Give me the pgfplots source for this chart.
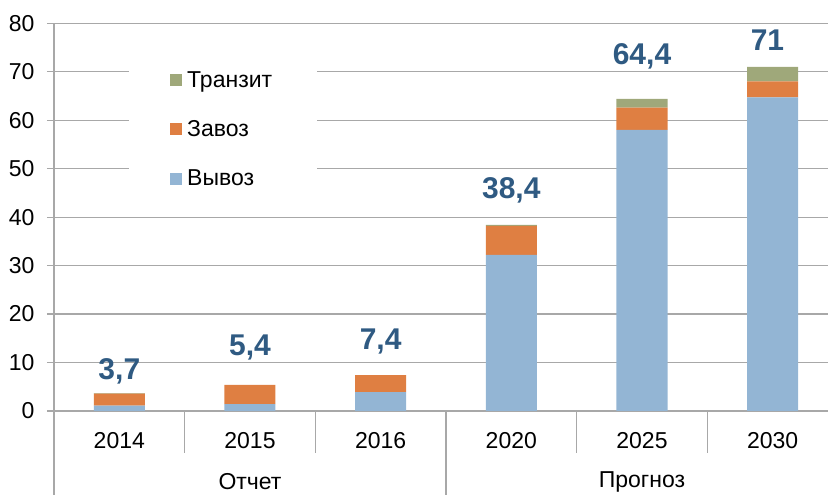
\documentclass[border=0pt]{standalone}
\usepackage{pgfplots}
\pgfplotsset{compat=1.18}
\usepackage{fontspec}
\setmainfont{Liberation Sans}

\definecolor{vyvoz}{HTML}{93B5D4}
\definecolor{zavoz}{HTML}{DF7F42}
\definecolor{tranzit}{HTML}{9FA87A}
\definecolor{gridc}{HTML}{A8A8A8}
\definecolor{lblc}{HTML}{2F5A82}

\tikzset{
    total/.style={font=\fontsize{30}{33}\selectfont\bfseries, text=lblc},
    sep/.style={draw=gridc, line width=1.2pt},
}

\begin{document}
\begin{tikzpicture}
\useasboundingbox (0,0) rectangle (828pt,495pt);
\begin{axis}[
    at={(54pt,84pt)}, anchor=south west,
    scale only axis, width=784pt, height=387.7pt,
    ybar stacked, bar width=51pt,
    xmin=-0.5, xmax=5.5, ymin=0, ymax=80,
    axis x line*=bottom, axis y line*=left,
    axis line style={draw=gridc, line width=1.2pt},
    ytick={0,10,...,80},
    ymajorgrids, grid style={draw=gridc, line width=1.2pt},
    tick align=outside, major tick length=7pt,
    ytick style={draw=gridc, line width=1.2pt},
    xtick={0,...,5},
    xticklabels={2014,2015,2016,2020,2025,2030},
    xtick style={draw=none},
    tick label style={font=\fontsize{23}{27}\selectfont, text=black},
    xticklabel style={yshift=-11pt},
    yticklabel style={xshift=-9pt},
    /pgf/number format/assume math mode=true,
    clip=false,
    legend cell align=left,
    reverse legend,
    legend image code/.code={\fill[#1] (0pt,-6pt) rectangle (12pt,6pt);},
    legend style={draw=none, fill=none, inner sep=0pt,
        at={(rel axis cs:0.148,0.882)}, anchor=north west,
        row sep=28pt, font=\fontsize{23}{27}\selectfont,
        /tikz/every odd column/.append style={column sep=3pt}},
]
\addplot[fill=vyvoz, draw=none] coordinates {
    (0,1.1) (1,1.4) (2,3.9) (3,32.2) (4,58.0) (5,64.7)
};
\addlegendentry{Вывоз}
\addplot[fill=zavoz, draw=none] coordinates {
    (0,2.5) (1,4.0) (2,3.5) (3,6.0) (4,4.6) (5,3.3)
};
\addlegendentry{Завоз}
\addplot[fill=tranzit, draw=none] coordinates {
    (0,0.1) (1,0.0) (2,0.0) (3,0.2) (4,1.8) (5,3.0)
};
\addlegendentry{Транзит}

% white box behind the legend hides part of the grid
\fill[white] (rel axis cs:0.0957,0.531) rectangle (rel axis cs:0.3355,0.957);

% totals
\node[total] at (axis cs:0,8.2) {3,7};
\node[total] at (axis cs:1,13.0) {5,4};
\node[total] at (axis cs:2,14.4) {7,4};
\node[total] at (axis cs:3,45.6) {38,4};
\node[total] at (axis cs:4,73.1) {64,4};
\node[total] at (axis cs:4.96,76.5) {71};

% category separators and group labels
\draw[sep] (axis cs:0.5,0) -- ++(0pt,-42pt);
\draw[sep] (axis cs:1.5,0) -- ++(0pt,-42pt);
\draw[sep] (axis cs:3.5,0) -- ++(0pt,-42pt);
\draw[sep] (axis cs:4.5,0) -- ++(0pt,-42pt);
\draw[sep] (axis cs:-0.5,0) -- ++(0pt,-90pt);
\draw[sep] (axis cs:2.5,0) -- ++(0pt,-90pt);
\draw[sep] (axis cs:5.5,0) -- ++(0pt,-90pt);
\node[font=\fontsize{23}{27}\selectfont] at (axis cs:1,0) [yshift=-71pt] {Отчет};
\node[font=\fontsize{23}{27}\selectfont] at (axis cs:4,0) [yshift=-71pt] {Прогноз};
\end{axis}
\end{tikzpicture}
\end{document}
